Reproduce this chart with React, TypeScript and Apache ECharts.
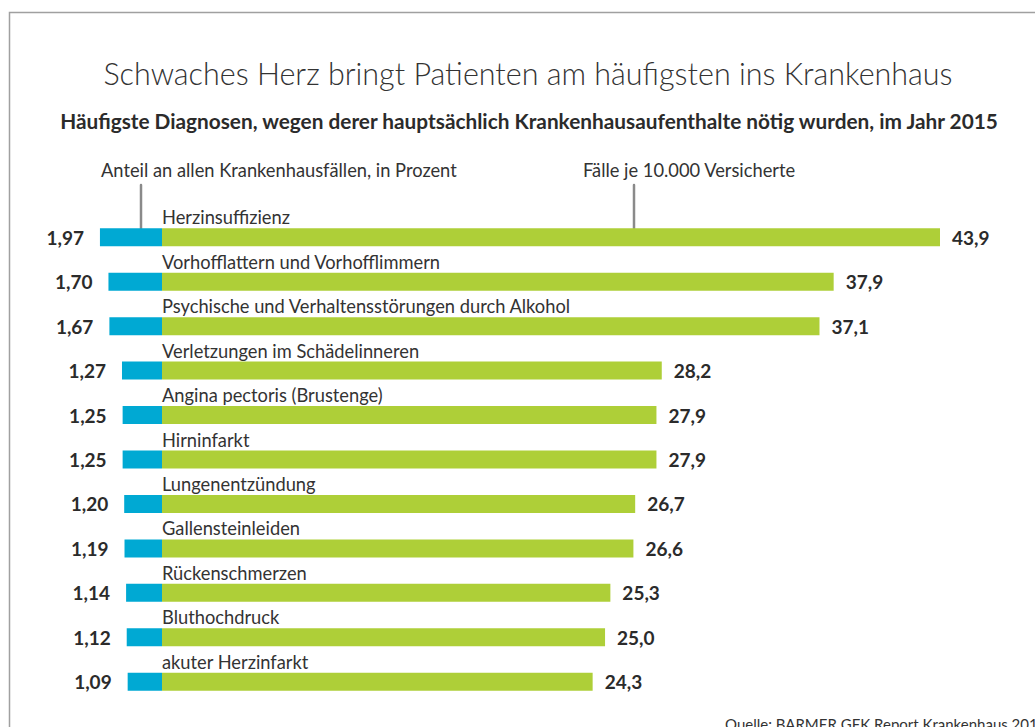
import React, { useEffect, useRef } from "react";
import * as echarts from "echarts";

const categories = [
  "Herzinsuffizienz",
  "Vorhofflattern und Vorhofflimmern",
  "Psychische und Verhaltensstörungen durch Alkohol",
  "Verletzungen im Schädelinneren",
  "Angina pectoris (Brustenge)",
  "Hirninfarkt",
  "Lungenentzündung",
  "Gallensteinleiden",
  "Rückenschmerzen",
  "Bluthochdruck",
  "akuter Herzinfarkt",
];
const shares = [1.97, 1.7, 1.67, 1.27, 1.25, 1.25, 1.2, 1.19, 1.14, 1.12, 1.09];
const cases = [43.9, 37.9, 37.1, 28.2, 27.9, 27.9, 26.7, 26.6, 25.3, 25.0, 24.3];

const title = "Schwaches Herz bringt Patienten am häufigsten ins Krankenhaus";
const subtitle =
  "Häufigste Diagnosen, wegen derer hauptsächlich Krankenhausaufenthalte nötig wurden, im Jahr 2015";
const shareLabel = "Anteil an allen Krankenhausfällen, in Prozent";
const casesLabel = "Fälle je 10.000 Versicherte";
const source = "Quelle: BARMER GEK Report Krankenhaus 2016";

const FONT = "Lato, 'Noto Sans', sans-serif";
const BLUE = "#00a9d3";
const GREEN = "#aecf38";
const TEXT = "#2b2b2b";

export default function App() {
  const ref = useRef<HTMLDivElement>(null);
  useEffect(() => {
    if (!ref.current) return;
    const chart = echarts.init(ref.current, null, { renderer: "svg" });
    const top = 215;
    const height = 489;
    chart.setOption({
      animation: false,
      backgroundColor: "#ffffff",
      textStyle: { fontFamily: FONT },
      grid: [
        { left: 99, width: 63, top, height },
        { left: 162, width: 778, top, height },
      ],
      xAxis: [
        { type: "value", gridIndex: 0, min: 0, max: 2, inverse: true, show: false },
        { type: "value", gridIndex: 1, min: 0, max: 43.9, show: false },
      ],
      yAxis: [
        { type: "category", gridIndex: 0, data: categories, inverse: true, show: false },
        { type: "category", gridIndex: 1, data: categories, inverse: true, show: false },
      ],
      series: [
        {
          type: "bar",
          xAxisIndex: 0,
          yAxisIndex: 0,
          data: shares,
          barWidth: 18,
          itemStyle: { color: BLUE },
          label: {
            show: true,
            position: "left",
            distance: 16,
            fontFamily: FONT,
            fontWeight: "bold",
            fontSize: 19,
            color: TEXT,
            formatter: (p: any) => p.value.toFixed(2).replace(".", ","),
          },
        },
        {
          type: "bar",
          xAxisIndex: 1,
          yAxisIndex: 1,
          data: cases,
          barWidth: 18,
          itemStyle: { color: GREEN },
          label: {
            show: true,
            position: "right",
            distance: 12,
            fontFamily: FONT,
            fontWeight: "bold",
            fontSize: 19,
            color: TEXT,
            formatter: (p: any) => p.value.toFixed(1).replace(".", ","),
          },
        },
        {
          type: "bar",
          xAxisIndex: 1,
          yAxisIndex: 1,
          data: cases,
          barWidth: 18,
          barGap: "-100%",
          itemStyle: { color: "rgba(0,0,0,0)" },
          label: {
            show: true,
            position: [0, -2],
            align: "left",
            verticalAlign: "bottom",
            fontFamily: FONT,
            fontSize: 18.3,
            color: "#333333",
            formatter: (p: any) => p.name,
          },
          silent: true,
        },
      ],
      graphic: [
        {
          type: "rect",
          shape: { x: 9.5, y: 12.5, width: 1200, height: 900 },
          style: { fill: "none", stroke: "#a0a0a0", lineWidth: 1.5 },
          silent: true,
        },
        {
          type: "text",
          x: 528,
          y: 73,
          style: {
            text: title,
            font: `300 30.5px ${FONT}`,
            fill: "#333333",
            align: "center",
            verticalAlign: "middle",
          },
        },
        {
          type: "text",
          x: 529,
          y: 120,
          style: {
            text: subtitle,
            font: `bold 20.8px ${FONT}`,
            fill: TEXT,
            align: "center",
            verticalAlign: "middle",
          },
        },
        {
          type: "text",
          x: 101,
          y: 170,
          style: {
            text: shareLabel,
            font: `18.3px ${FONT}`,
            fill: "#333333",
            align: "left",
            verticalAlign: "middle",
          },
        },
        {
          type: "text",
          x: 583,
          y: 170,
          style: {
            text: casesLabel,
            font: `18.3px ${FONT}`,
            fill: "#333333",
            align: "left",
            verticalAlign: "middle",
          },
        },
        {
          type: "line",
          shape: { x1: 141, y1: 185, x2: 141, y2: 234 },
          style: { stroke: "#8a8a8a", lineWidth: 2.5, lineCap: "round" },
        },
        {
          type: "line",
          shape: { x1: 634, y1: 185, x2: 634, y2: 235 },
          style: { stroke: "#8a8a8a", lineWidth: 2.5, lineCap: "round" },
        },
        {
          type: "text",
          x: 725,
          y: 716,
          style: {
            text: source,
            font: `15px ${FONT}`,
            fill: "#333333",
            align: "left",
            verticalAlign: "top",
          },
        },
      ],
    });
    return () => chart.dispose();
  }, []);
  return (
    <div
      ref={ref}
      style={{ position: "absolute", left: 0, top: 0, width: 1035, height: 727 }}
    />
  );
}
